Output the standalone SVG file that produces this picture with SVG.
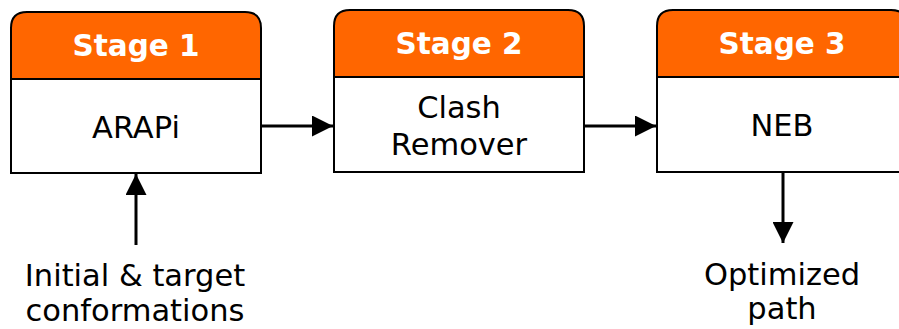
<svg xmlns="http://www.w3.org/2000/svg" width="899" height="329" viewBox="0 0 899 329">
<style>
.hdr{fill:#ff6600;stroke:#000;stroke-width:2}
.body{fill:#fff;stroke:#000;stroke-width:2}
.ht{font-family:"DejaVu Sans",Verdana,sans-serif;font-weight:bold;font-size:29.5px;fill:#fff;text-anchor:middle}
.bt{font-family:"DejaVu Sans",Verdana,sans-serif;font-size:30.5px;fill:#000;text-anchor:middle}
.edge{stroke:#000;stroke-width:3;fill:none;marker-end:url(#ah)}
</style>
<defs>
<marker id="ah" viewBox="0 0 10 10" refX="10" refY="5" markerUnits="userSpaceOnUse" markerWidth="28" markerHeight="21" orient="auto">
<path d="M0,0 L10,5 L0,10 Z" fill="#000"/>
</marker>
</defs>
<rect width="899" height="329" fill="#fff"/>
<g id="connectors">
<line class="edge" x1="261" y1="126" x2="333" y2="126"/>
<line class="edge" x1="584" y1="126" x2="656" y2="126"/>
<line class="edge" x1="136" y1="245" x2="136" y2="174"/>
<line class="edge" x1="783" y1="172" x2="783" y2="243"/>
</g>
<g id="stage1">
<path class="hdr" d="M11,79 V28 Q11,12 27,12 H245 Q261,12 261,28 V79 Z"/>
<rect class="body" x="11" y="79" width="250" height="94"/>
<text class="ht" x="136" y="56">Stage 1</text>
<text class="bt" x="136" y="138">ARAPi</text>
</g>
<g id="stage2">
<path class="hdr" d="M334,77 V26 Q334,10 350,10 H568 Q584,10 584,26 V77 Z"/>
<rect class="body" x="334" y="77" width="250" height="95"/>
<text class="ht" x="459" y="54">Stage 2</text>
<text class="bt" x="459" y="118">Clash</text>
<text class="bt" x="459" y="155">Remover</text>
</g>
<g id="stage3">
<path class="hdr" d="M657,77 V26 Q657,10 673,10 H891 Q907,10 907,26 V77 Z"/>
<rect class="body" x="657" y="77" width="250" height="95"/>
<text class="ht" x="782" y="54">Stage 3</text>
<text class="bt" x="782" y="136">NEB</text>
</g>
<g id="input">
<text class="bt" x="135" y="286">Initial &amp; target</text>
<text class="bt" x="135" y="321">conformations</text>
</g>
<g id="output">
<text class="bt" x="782" y="285">Optimized</text>
<text class="bt" x="782" y="319">path</text>
</g>
</svg>
